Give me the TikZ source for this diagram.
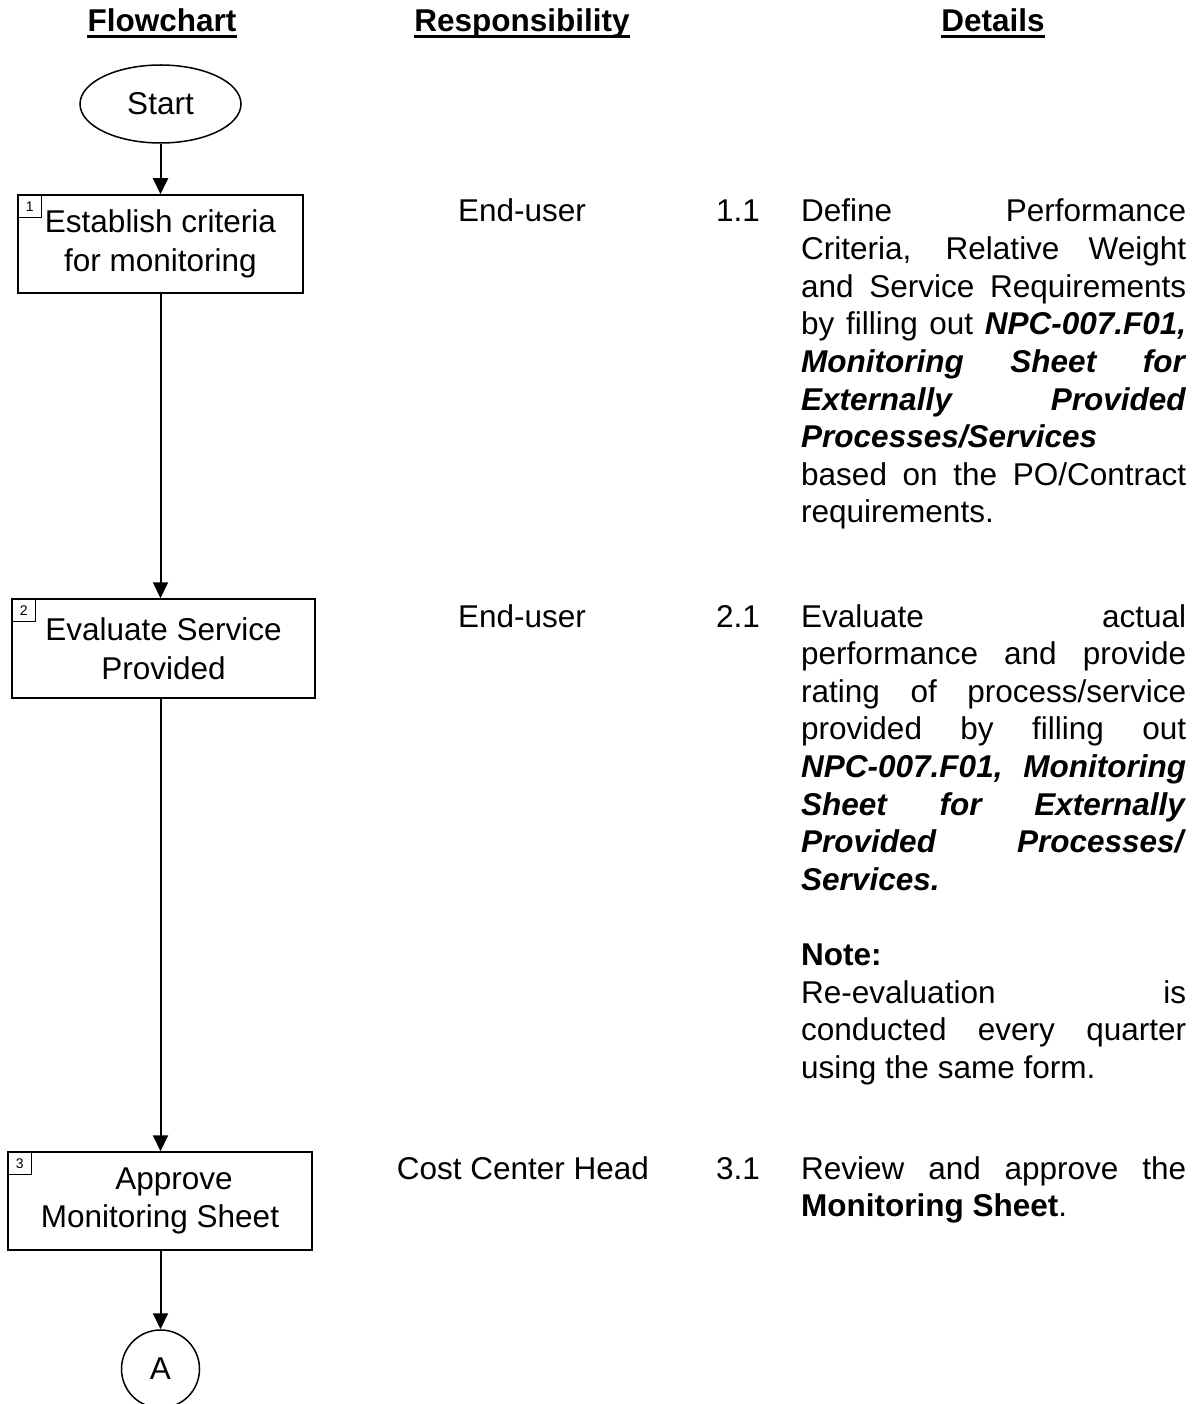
\documentclass[tikz,border=0pt]{standalone}
\usepackage{fontspec}
\setmainfont{Liberation Sans}
\usetikzlibrary{arrows.meta,shapes.geometric}
\newcommand\bi[1]{\textbf{\textit{#1}}}
\newcommand\jline[1]{\makebox[385pt][s]{#1}}
\newcommand\lline[1]{\makebox[385pt][l]{#1}}
\begin{document}
\begin{tikzpicture}[x=1pt,y=-1pt,
  txt/.style={font=\fontsize{31.5}{37.6}\selectfont, inner sep=0pt},
  hdr/.style={font=\fontsize{31.5}{37.6}\selectfont\bfseries, inner sep=0pt, anchor=base},
  uline/.style={line width=3pt},
  procbox/.style={draw, line width=1.5pt, inner sep=0pt, align=center, font=\fontsize{31.5}{38.5}\selectfont},
  termin/.style={draw, ellipse, line width=1.5pt, inner sep=0pt, font=\fontsize{31.5}{37.6}\selectfont},
  connector/.style={draw, circle, line width=1.5pt, inner sep=0pt, minimum size=78pt, font=\fontsize{31.5}{37.6}\selectfont},
  numbox/.style={draw, line width=1pt, minimum width=24pt, minimum height=23pt, inner sep=0pt, font=\fontsize{14}{14}\selectfont, anchor=north west},
  flow/.style={line width=2pt, -{Triangle[length=16pt,width=15pt]}},
  resp/.style={txt, anchor=base},
  num/.style={txt, anchor=base west},
  det/.style={txt, anchor=base west}
]
\useasboundingbox (0,0) rectangle (1202,1404);

% headers
\node[hdr] (h1) at (162,32) {Flowchart};
\node[hdr] (h2) at (522,32) {Responsibility};
\node[hdr] (h3) at (993,32) {Details};
\foreach \h in {h1,h2,h3}
  \draw[uline] ([yshift=-5pt]\h.base west) -- ([yshift=-5pt]\h.base east);

% flowchart
\node[termin, minimum width=161pt, minimum height=78pt] (start) at (160.5,104) {Start};
\node[procbox, minimum width=285pt, minimum height=98pt] (b1) at (160.5,244) {Establish criteria\\for monitoring};
\node[procbox, minimum width=303pt, minimum height=99pt] (b2) at (163.5,648.5) {Evaluate Service\\Provided};
\node[procbox, minimum width=304pt, minimum height=98pt] (b3) at (160,1201) {\hspace*{28pt}Approve\\Monitoring Sheet};
\node[connector] (A) at (160.5,1369) {A};

\node[numbox] (n1) at (b1.north west) {1};
\node[numbox] (n2) at (b2.north west) {2};
\node[numbox] (n3) at (b3.north west) {3};

\draw[flow] (start.south) -- (start.south |- b1.north);
\draw[flow] (b1.south) -- (b1.south |- b2.north);
\draw[flow] (b2.south -| b1.south) -- (b1.south |- b3.north);
\draw[flow] (b3.south -| b1.south) -- (b1.south |- A.north);

% responsibility
\node[resp] (r1) at (522,222) {End-user};
\node[resp] (r2) at (522,627) {End-user};
\node[resp] (r3) at (523,1179) {Cost Center Head};

% step numbers
\node[num] (s1) at (716,222) {1.1};
\node[num] (s2) at (716,627) {2.1};
\node[num] (s3) at (716,1179) {3.1};

% details block 1
\foreach \t [count=\i from 0] in {
  {\jline{Define Performance}},
  {\jline{Criteria, Relative Weight}},
  {\jline{and Service Requirements}},
  {\jline{by filling out \bi{NPC-007.F01,}}},
  {\jline{\bi{Monitoring Sheet for}}},
  {\jline{\bi{Externally Provided}}},
  {\lline{\bi{Processes/Services}}},
  {\jline{based on the PO/Contract}},
  {\lline{requirements.}}}
  \node[det] (da\i) at (801,{222+37.6*\i}) {\t};

% details block 2
\foreach \t [count=\i from 0] in {
  {\jline{Evaluate actual}},
  {\jline{performance and provide}},
  {\jline{rating of process/service}},
  {\jline{provided by filling out}},
  {\jline{\bi{NPC-007.F01, Monitoring}}},
  {\jline{\bi{Sheet for Externally}}},
  {\jline{\bi{Provided Processes/}}},
  {\lline{\bi{Services.}}}}
  \node[det] (db\i) at (801,{627+37.6*\i}) {\t};
\foreach \t [count=\i from 0] in {
  {\lline{\textbf{Note:}}},
  {\jline{Re-evaluation is}},
  {\jline{conducted every quarter}},
  {\lline{using the same form.}}}
  \node[det] (dn\i) at (801,{627+37.6*(\i+9)}) {\t};

% details block 3
\node[det] (dc0) at (801,1179) {\jline{Review and approve the}};
\node[det] (dc1) at (801,1216.6) {\lline{\textbf{Monitoring Sheet}.}};
\end{tikzpicture}
\end{document}
